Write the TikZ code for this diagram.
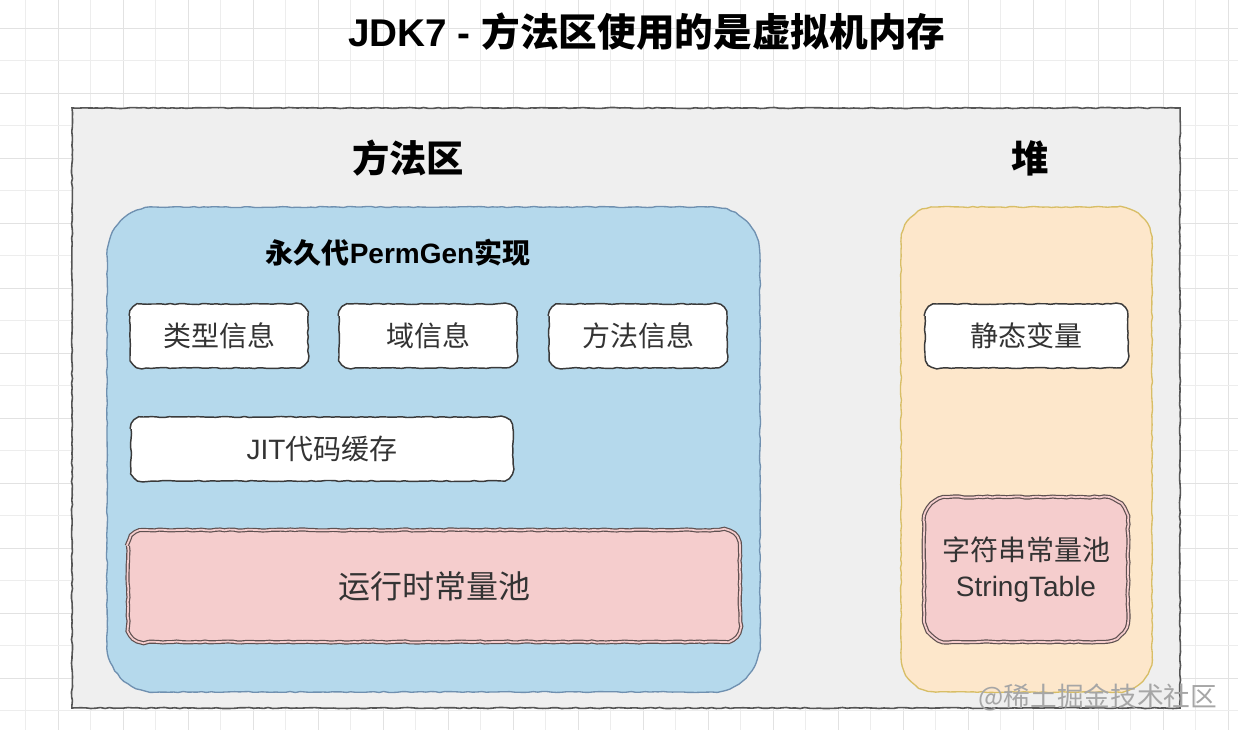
\documentclass[tikz,border=0pt]{standalone}
\usepackage{fontspec}
\setmainfont{Noto Sans CJK SC}
\newfontfamily\lat{Liberation Sans}
\usetikzlibrary{decorations.pathmorphing}
\definecolor{gridminor}{HTML}{EDEDED}
\definecolor{gridmajor}{HTML}{E2E2E2}
\definecolor{outerfill}{HTML}{EFEFEF}
\definecolor{outerline}{HTML}{555555}
\definecolor{bluefill}{HTML}{B5D9EC}
\definecolor{blueline}{HTML}{6F90B0}
\definecolor{orangefill}{HTML}{FDE7CB}
\definecolor{orangeline}{HTML}{D8BE66}
\definecolor{pinkfill}{HTML}{F5CDCD}
\definecolor{pinkline}{HTML}{5E5050}
\definecolor{boxline}{HTML}{3A3A3A}
\definecolor{textc}{HTML}{333333}
\pgfdeclarelayer{back}
\pgfdeclarelayer{lone}
\pgfdeclarelayer{ltwo}
\pgfdeclarelayer{lthree}
\pgfsetlayers{back,lone,ltwo,lthree,main}
\newcommand\skshape[3]{\draw[sketch,#3] [rounded corners=#2] (#1.north west) rectangle (#1.south east) [sharp corners];}
\begin{document}
\begin{tikzpicture}[x=0.75pt,y=-0.75pt,
  sketch/.style={decorate, decoration={random steps, segment length=3.5pt, amplitude=0.4pt}},
  area/.style={inner sep=0pt, outer sep=0pt},
  heading/.style={font=\fontsize{28}{32}\selectfont\bfseries, text=black},
  whitebox/.style={area, minimum height=48pt, text=textc, font=\fontsize{21}{25}\selectfont},
  whiteshape/.style={draw=boxline, fill=white, line width=1.1pt},
  pinkshape/.style={draw=pinkline, fill=pinkfill, double=pinkfill, double distance=1.3pt, line width=0.9pt},
  minorgrid/.style={draw=gridminor, line width=0.6pt},
  majorgrid/.style={draw=gridmajor, line width=0.6pt}
]
\useasboundingbox (0,0) rectangle (1238,730);
\begin{pgfonlayer}{back}
\fill[white] (0,0) rectangle (1238,730);
% grid
\foreach \i in {-2,...,37} {
  \pgfmathsetmacro{\gx}{58+32.5*\i}
  \ifodd\i \draw[minorgrid] (\gx,0) -- (\gx,730); \else \draw[majorgrid] (\gx,0) -- (\gx,730); \fi
}
\foreach \j in {-1,...,22} {
  \pgfmathsetmacro{\gy}{28+32.5*\j}
  \ifodd\j \draw[minorgrid] (0,\gy) -- (1238,\gy); \else \draw[majorgrid] (0,\gy) -- (1238,\gy); \fi
}
\end{pgfonlayer}

% title
\node[font=\fontsize{29}{33}\selectfont\bfseries, text=black] (title) at (647,32) {{\lat JDK7 - }方法区使用的是虚拟机内存};

% areas (text nodes; shapes drawn on layers below)
\node[area, minimum width=831pt, minimum height=450pt] (outer) at (626,408) {};
\node[area, minimum width=489.75pt, minimum height=363.75pt] (perm) at (433.5,449.5) {};
\node[area, minimum width=188.25pt, minimum height=363.75pt] (heap) at (1026.5,449.5) {};

\node[heading] (mahead) at (408,158) {方法区};
\node[heading] (heaphead) at (1030,158) {堆};
\node[font=\fontsize{21}{25}\selectfont\bfseries, text=black] (permlabel) at (398,253)
  {永久代{\lat PermGen}实现};

\node[whitebox, minimum width=133.5pt] (type) at (219,336) {类型信息};
\node[whitebox, minimum width=133.5pt] (field) at (428,336) {域信息};
\node[whitebox, minimum width=133.5pt] (method) at (638,336) {方法信息};
\node[whitebox, minimum width=286.5pt] (jit) at (322,449) {{\lat JIT}代码缓存};
\node[whitebox, minimum width=152.25pt] (static) at (1026.5,336) {静态变量};

\node[area, minimum width=459pt, minimum height=84pt, text=textc,
      font=\fontsize{24}{28}\selectfont] (rcp) at (434,586) {运行时常量池};
\node[area, minimum width=153pt, minimum height=108.75pt, text=textc,
      align=center, font=\fontsize{21}{27}\selectfont] (strtab) at (1026,569.5)
  {字符串常量池\\{\lat StringTable}};

\begin{pgfonlayer}{lone}
  \skshape{outer}{0pt}{draw=outerline, fill=outerfill, line width=1.2pt}
\end{pgfonlayer}
\begin{pgfonlayer}{ltwo}
  \skshape{perm}{36pt}{draw=blueline, fill=bluefill, line width=1pt}
  \skshape{heap}{26pt}{draw=orangeline, fill=orangefill, line width=1pt}
\end{pgfonlayer}
\begin{pgfonlayer}{lthree}
  \skshape{type}{9pt}{whiteshape}
  \skshape{field}{9pt}{whiteshape}
  \skshape{method}{9pt}{whiteshape}
  \skshape{jit}{9pt}{whiteshape}
  \skshape{static}{9pt}{whiteshape}
  \skshape{rcp}{12pt}{pinkshape}
  \skshape{strtab}{18pt}{pinkshape}
\end{pgfonlayer}

% watermark
\node[font=\fontsize{20}{24}\selectfont, text=black!35] (wm) at (1098,697) {@稀土掘金技术社区};
\end{tikzpicture}
\end{document}
